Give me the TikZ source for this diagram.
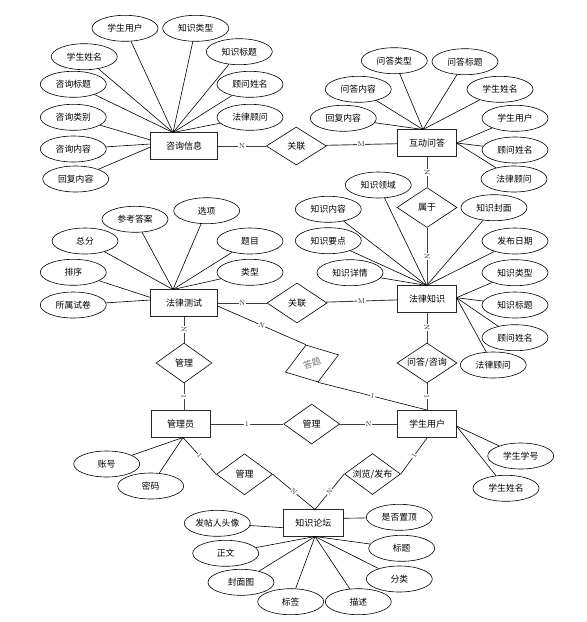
\documentclass[tikz,border=0pt]{standalone}
\usepackage{fontspec}
\newfontfamily\cjk{Noto Sans CJK SC}
\usetikzlibrary{shapes.geometric}
\begin{document}
\begin{tikzpicture}[x=1pt,y=-1pt,
 ent/.style={draw=black!85,line width=1pt,minimum width=59pt,minimum height=27pt,inner sep=0pt,font=\cjk\fontsize{9}{10}\selectfont},
 wide/.style={minimum width=67pt},
 attr/.style={draw,ellipse,line width=0.6pt,minimum width=66pt,minimum height=26pt,inner sep=0pt,font=\cjk\fontsize{8.8}{10}\selectfont},
 rel/.style={draw,diamond,shape aspect=1.5,inner sep=0pt,minimum width=56pt,minimum height=40pt,line width=0.6pt,font=\cjk\fontsize{9}{10}\selectfont},
 card/.style={fill=white,inner sep=0.6pt,font=\fontsize{7}{8}\selectfont,text=black!85},
 ln/.style={line width=0.6pt},
 rl/.style={line width=0.9pt,draw=black!75}
]
\useasboundingbox (0,0) rectangle (587,622);

% entities
\node[ent,wide] (zx) at (184,146) {咨询信息};
\node[ent] (hd) at (427,143) {互动问答};
\node[ent,wide] (cs) at (184,303) {法律测试};
\node[ent] (zs) at (427,299) {法律知识};
\node[ent] (gly) at (180.5,424) {管理员};
\node[ent] (xs) at (427,424) {学生用户};
\node[ent,minimum width=60pt] (lt) at (313.3,523) {知识论坛};

% relationships
\node[rel,minimum width=60pt,minimum height=38pt] (gl1) at (296.3,146) {关联};
\node[rel,minimum width=60pt] (sy) at (427,207.5) {属于};
\node[rel,minimum width=60pt] (gl2) at (297,303) {关联};
\node[rel] (gl3) at (184,363) {管理};
\node[rel,minimum width=60pt] (wd) at (427,363) {问答/咨询};
\node[rel,rotate=18,minimum height=39pt,text=black!55] (dt) at (312,363.5) {答题};
\node[rel] (gl4) at (311.7,424) {管理};
\node[rel,minimum height=41pt] (gl5) at (244.5,474.3) {管理};
\node[rel,minimum height=41pt] (ll) at (372.5,474) {浏览/发布};

% connection points
\coordinate (zxT) at (173,132.5);
\coordinate (zxL1) at (150.5,140);
\coordinate (zxL2) at (150.5,144);
\coordinate (zxL3) at (150.5,147);
\coordinate (hdT) at (423,129.5);
\coordinate (hdR) at (456.5,143);
\coordinate (csT) at (173,289.5);
\coordinate (csL1) at (150.5,297.5);
\coordinate (csL2) at (150.5,300);
\coordinate (csR) at (217.5,306);
\coordinate (zsT) at (426.7,285.5);
\coordinate (zsR) at (456.5,297.7);
\coordinate (glyB) at (183,437.5);
\coordinate (xsR) at (456.5,426);
\coordinate (ltB) at (315,536.5);
\coordinate (ltL) at (283.3,527.7);
\coordinate (ltR) at (343.3,518.3);
\coordinate (ltT) at (315,509.5);
\coordinate (glyT) at (184,410.5);

% attributes of 咨询信息
\node[attr] (a1) at (125,28.3) {学生用户};
\node[attr] (a2) at (195.7,28.3) {知识类型};
\node[attr] (a3) at (84.3,56.7) {学生姓名};
\node[attr] (a4) at (239.3,51.7) {知识标题};
\node[attr] (a5) at (73.3,84.3) {咨询标题};
\node[attr] (a6) at (250,84.3) {顾问姓名};
\node[attr] (a7) at (250,117.3) {法律顾问};
\node[attr] (a8) at (73.3,117.3) {咨询类别};
\node[attr] (a9) at (73.3,149) {咨询内容};
\node[attr] (a10) at (75.7,179) {回复内容};
\foreach \n in {a1,a2,a3,a4,a5,a6,a7} \draw[ln] (\n) -- (zxT);
\draw[ln] (a8) -- (zxL1);
\draw[ln] (a9) -- (zxL2);
\draw[ln] (a10) -- (zxL3);

% attributes of 互动问答
\node[attr] (b1) at (394.3,60.7) {问答类型};
\node[attr] (b2) at (465,61.7) {问答标题};
\node[attr] (b3) at (358.3,89.3) {问答内容};
\node[attr] (b4) at (500,89.3) {学生姓名};
\node[attr] (b5) at (343.3,118.3) {回复内容};
\node[attr] (b6) at (515,118.3) {学生用户};
\node[attr] (b7) at (515,150) {顾问姓名};
\node[attr] (b8) at (514,179) {法律顾问};
\foreach \n in {b1,b2,b3,b4,b5} \draw[ln] (\n) -- (hdT);
\foreach \n in {b6,b7,b8} \draw[ln] (\n) -- (hdR);

% attributes of 法律测试
\node[attr] (c1) at (135,219.3) {参考答案};
\node[attr] (c2) at (206.7,210.7) {选项};
\node[attr] (c3) at (85,241) {总分};
\node[attr] (c4) at (250,241) {题目};
\node[attr] (c5) at (250,272.3) {类型};
\node[attr] (c6) at (73.3,272.3) {排序};
\node[attr] (c7) at (73.3,305) {所属试卷};
\foreach \n in {c1,c2,c3,c4,c5} \draw[ln] (\n) -- (csT);
\draw[ln] (c6) -- (csL1);
\draw[ln] (c7) -- (csL2);

% attributes of 法律知识
\node[attr] (d1) at (378.3,185) {知识领域};
\node[attr] (d2) at (328.3,209.3) {知识内容};
\node[attr] (d3) at (494,207.7) {知识封面};
\node[attr] (d4) at (328.3,240.7) {知识要点};
\node[attr] (d5) at (515,241) {发布日期};
\node[attr] (d6) at (350,272.7) {知识详情};
\node[attr] (d7) at (515,272.7) {知识类型};
\node[attr] (d8) at (515,305) {知识标题};
\node[attr] (d9) at (515,337.7) {顾问姓名};
\node[attr] (d10) at (493.3,365) {法律顾问};
\foreach \n in {d1,d2,d3,d4,d5,d6} \draw[ln] (\n) -- (zsT);
\foreach \n in {d7,d8,d9,d10} \draw[ln] (\n) -- (zsR);

% attributes of 管理员 and 学生用户
\node[attr] (e1) at (106.7,464) {账号};
\node[attr] (e2) at (150.7,486) {密码};
\draw[ln] (e1) -- (glyB);
\draw[ln] (e2) -- (glyB);
\node[attr] (f1) at (520.7,456) {学生学号};
\node[attr] (f2) at (506,488.3) {学生姓名};
\draw[ln] (f1) -- (xsR);
\draw[ln] (f2) -- (xsR);

% attributes of 知识论坛
\node[attr] (g1) at (217.3,523.3) {发帖人头像};
\node[attr] (g2) at (399.3,517.3) {是否置顶};
\node[attr] (g3) at (225.7,553.3) {正文};
\node[attr] (g4) at (401.7,548.3) {标题};
\node[attr] (g5) at (241,582.3) {封面图};
\node[attr] (g6) at (399.3,579) {分类};
\node[attr] (g7) at (290.7,601.7) {标签};
\node[attr] (g8) at (358.3,601.7) {描述};
\draw[ln] (g1) -- (ltL);
\draw[ln] (g2) -- (ltR);
\foreach \n in {g3,g4,g5,g6,g7,g8} \draw[ln] (\n) -- (ltB);

% relationship connectors
\draw[rl] (zx) -- node[card]{N} (gl1);
\draw[rl] (gl1) -- node[card]{M} (hd);
\draw[rl] (hd) -- node[card,sloped]{N} (sy);
\draw[rl] (sy) -- node[card,sloped]{N} (zs);
\draw[rl] (cs) -- node[card]{N} (gl2);
\draw[rl] (gl2) -- node[card]{M} (zs);
\draw[rl] (cs) -- node[card,sloped]{N} (gl3);
\draw[rl] (gl3) -- node[card,sloped]{1} (glyT);
\draw[rl] (zs) -- node[card,sloped]{N} (wd);
\draw[rl] (wd) -- node[card,sloped]{1} (xs);
\draw[ln] (csR) -- node[card,sloped]{N} (dt.north);
\draw[ln] (dt.south) -- node[card,sloped]{1} (xs.north);
\draw[rl] (gly) -- node[card]{1} (gl4);
\draw[rl] (gl4) -- node[card]{N} (xs);
\draw[ln] (glyB) -- node[card,sloped]{1} (gl5.west);
\draw[ln] (gl5.east) -- node[card,sloped]{N} (ltT);
\draw[ln] (ltT) -- node[card,sloped]{N} (ll.west);
\draw[ln] (ll.east) -- node[card,sloped]{1} (xs.south);
\end{tikzpicture}
\end{document}
